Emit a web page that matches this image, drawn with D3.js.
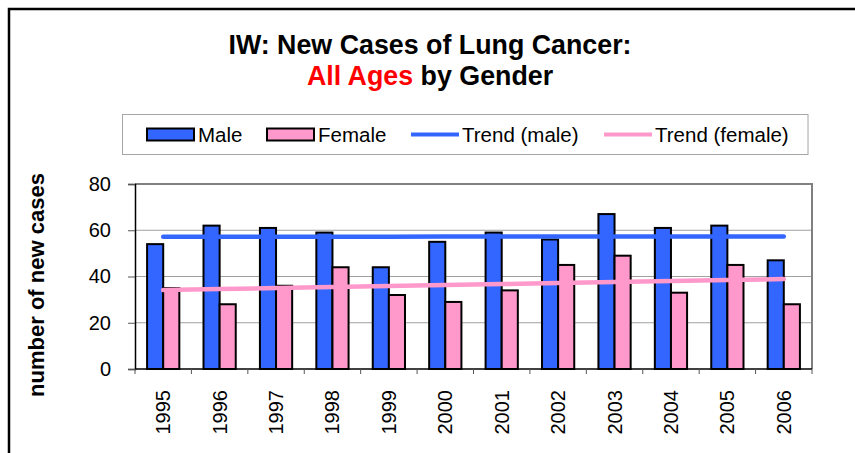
<!DOCTYPE html>
<html>
<head>
<meta charset="utf-8">
<script src="https://cdn.jsdelivr.net/npm/d3@7"></script>
<style>
    body { margin: 0; background: #ffffff; }
    svg { display: block; font-family: "Liberation Sans", Arial, sans-serif; }
</style>
</head>
<body>
<svg id="chart"></svg>
<script>
// data
const years = ["1995", "1996", "1997", "1998", "1999", "2000", "2001", "2002", "2003", "2004", "2005", "2006"];
const male = [54, 62, 61, 59, 44, 55, 59, 56, 67, 61, 62, 47];
const female = [35, 28, 36, 44, 32, 29, 34, 45, 49, 33, 45, 28];
const yTicks = [0, 20, 40, 60, 80];

const blue = "#3366ff";
const pink = "#ff99cc";

const width = 855;
const height = 453;

const svg = d3.select("#chart").attr("width", width).attr("height", height);

// outer chart frame (runs off the right/bottom edge like the reference)
svg.append("rect")
    .attr("x", 9).attr("y", 9)
    .attr("width", 900).attr("height", 500)
    .attr("fill", "#ffffff")
    .attr("stroke", "#000000")
    .attr("stroke-width", 2.5);

// title
const title = svg.append("text")
    .attr("text-anchor", "middle")
    .attr("font-weight", "bold")
    .attr("font-size", 26.8);
title.append("tspan").attr("x", 430).attr("y", 54).text("IW: New Cases of Lung Cancer:");
const line2 = title.append("tspan").attr("x", 430).attr("y", 85);
line2.append("tspan").attr("fill", "#ff0000").text("All Ages");
line2.append("tspan").text(" by Gender");

// plot area
const plot = { left: 135, right: 812, top: 184, bottom: 369 };

const x = d3.scaleBand()
    .domain(years)
    .range([plot.left, plot.right])
    .padding(0);

// Excel style gap width of 150%
const xSeries = d3.scaleBand()
    .domain(["male", "female"])
    .range([0, x.bandwidth()])
    .paddingInner(0)
    .paddingOuter(0.75);

const y = d3.scaleLinear()
    .domain([0, 80])
    .range([plot.bottom, plot.top]);

const g = svg.append("g");

// gridlines
g.selectAll(".grid")
    .data(yTicks.filter(t => t > 0 && t < 80))
    .join("line")
    .attr("class", "grid")
    .attr("x1", plot.left).attr("x2", plot.right)
    .attr("y1", d => y(d)).attr("y2", d => y(d))
    .attr("stroke", "#a0a0a0")
    .attr("stroke-width", 1);

// plot border: top and right in grey
g.append("path")
    .attr("d", `M${plot.left},${y(80)}H${plot.right}V${plot.bottom}`)
    .attr("fill", "none")
    .attr("stroke", "#808080")
    .attr("stroke-width", 2);

// y axis
const yAxis = g.append("g")
    .attr("transform", `translate(${plot.left},0)`)
    .call(d3.axisLeft(y).tickValues(yTicks).tickSize(7).tickPadding(17));
yAxis.select(".domain").attr("stroke", "#000000").attr("stroke-width", 1.5);
yAxis.selectAll(".tick line").attr("stroke", "#555555");
yAxis.selectAll("text")
    .attr("font-size", 20)
    .attr("font-family", "Liberation Sans, Arial, sans-serif")
    .attr("fill", "#000000");

// x axis: ticks sit between categories
const xAxis = g.append("g")
    .attr("transform", `translate(0,${plot.bottom})`);
xAxis.append("line")
    .attr("x1", plot.left).attr("x2", plot.right)
    .attr("stroke", "#000000")
    .attr("stroke-width", 1.5);
xAxis.selectAll(".xtick")
    .data(years.concat(["end"]))
    .join("line")
    .attr("class", "xtick")
    .attr("x1", (d, i) => plot.left + i * x.step())
    .attr("x2", (d, i) => plot.left + i * x.step())
    .attr("y1", 0).attr("y2", 5)
    .attr("stroke", "#555555");
xAxis.selectAll(".xlabel")
    .data(years)
    .join("text")
    .attr("class", "xlabel")
    .attr("transform", d => `translate(${x(d) + x.bandwidth() / 2 + 7},21) rotate(-90)`)
    .attr("text-anchor", "end")
    .attr("font-size", 20)
    .text(d => d);

// bars
const groups = g.selectAll(".year")
    .data(years)
    .join("g")
    .attr("class", "year")
    .attr("transform", d => `translate(${x(d)},0)`);

groups.append("rect")
    .attr("x", xSeries("male"))
    .attr("y", (d, i) => y(male[i]))
    .attr("width", xSeries.bandwidth())
    .attr("height", (d, i) => y(0) - y(male[i]))
    .attr("fill", blue)
    .attr("stroke", "#000000")
    .attr("stroke-width", 2);

groups.append("rect")
    .attr("x", xSeries("female"))
    .attr("y", (d, i) => y(female[i]))
    .attr("width", xSeries.bandwidth())
    .attr("height", (d, i) => y(0) - y(female[i]))
    .attr("fill", pink)
    .attr("stroke", "#000000")
    .attr("stroke-width", 2);

// linear trend lines (least squares, like Excel)
function linearFit(values) {
    const xs = values.map((v, i) => i + 1);
    const mx = d3.mean(xs);
    const my = d3.mean(values);
    const slope = d3.sum(xs, (v, i) => (v - mx) * (values[i] - my)) / d3.sum(xs, v => (v - mx) * (v - mx));
    const intercept = my - slope * mx;
    return xs.map(v => intercept + slope * v);
}

const trendLine = d3.line()
    .x((d, i) => x(years[i]) + x.bandwidth() / 2)
    .y(d => y(d));

const trends = [
    { values: linearFit(male), color: blue },
    { values: linearFit(female), color: pink }
];

g.selectAll(".trend")
    .data(trends)
    .join("path")
    .attr("class", "trend")
    .attr("d", d => trendLine(d.values))
    .attr("fill", "none")
    .attr("stroke", d => d.color)
    .attr("stroke-width", 4.5)
    .attr("stroke-linecap", "round");

// y axis title
svg.append("text")
    .attr("transform", "translate(44,285) rotate(-90)")
    .attr("text-anchor", "middle")
    .attr("font-weight", "bold")
    .attr("font-size", 22)
    .text("number of new cases");

// legend
const legendItems = [
    { label: "Male", type: "rect", color: blue },
    { label: "Female", type: "rect", color: pink },
    { label: "Trend (male)", type: "line", color: blue },
    { label: "Trend (female)", type: "line", color: pink }
];
const legendX = [147, 267, 411, 604];

const legend = svg.append("g");
legend.append("rect")
    .attr("x", 122.5).attr("y", 114.5)
    .attr("width", 685.5).attr("height", 40)
    .attr("fill", "#ffffff")
    .attr("stroke", "#a6a6a6")
    .attr("stroke-width", 1);

const ly = 134.5;
legendItems.forEach((item, i) => {
    const lx = legendX[i];
    if (item.type === "rect") {
        legend.append("rect")
            .attr("x", lx).attr("y", ly - 6)
            .attr("width", 47).attr("height", 12)
            .attr("fill", item.color)
            .attr("stroke", "#000000")
            .attr("stroke-width", 2);
    } else {
        legend.append("line")
            .attr("x1", lx).attr("x2", lx + 48)
            .attr("y1", ly).attr("y2", ly)
            .attr("stroke", item.color)
            .attr("stroke-width", 4);
    }
    legend.append("text")
        .attr("x", lx + 51)
        .attr("y", ly + 7)
        .attr("font-size", 20.5)
        .text(item.label);
});
</script>
</body>
</html>
